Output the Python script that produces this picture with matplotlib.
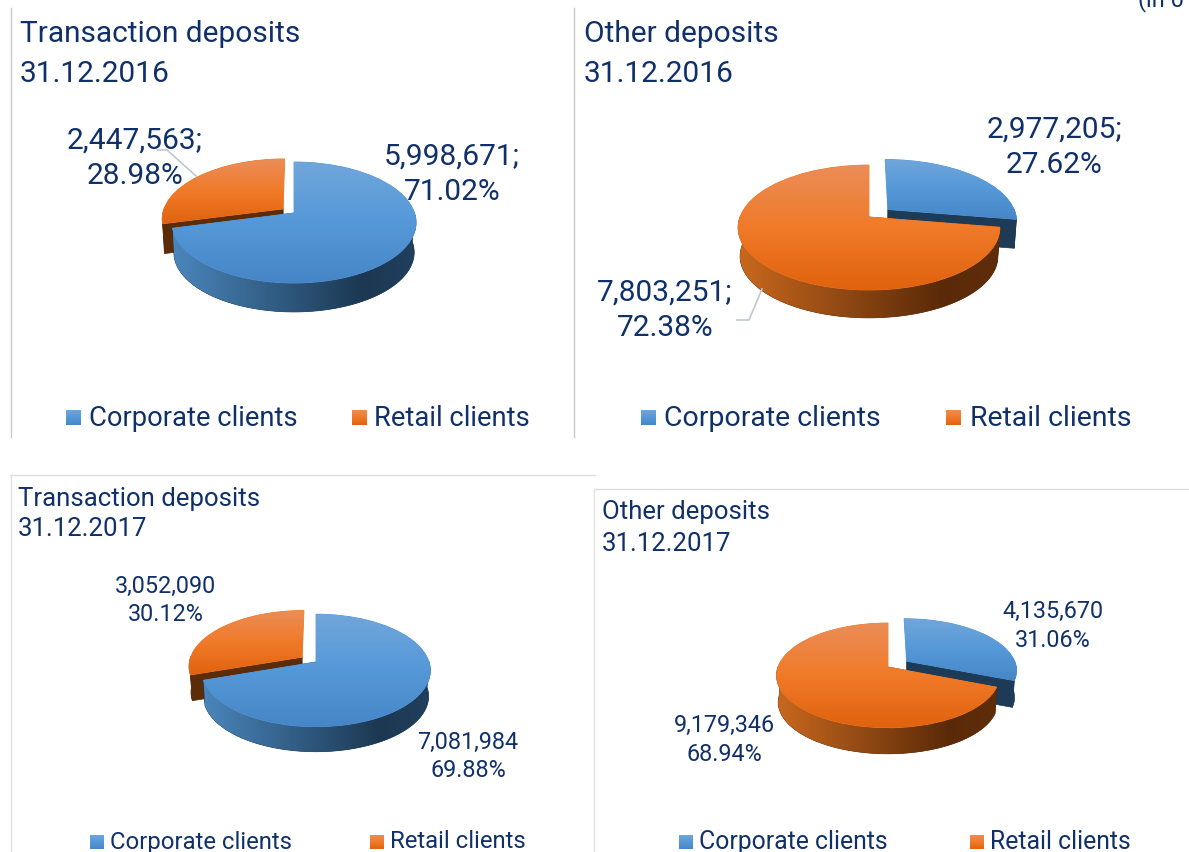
import numpy as np
import matplotlib
matplotlib.use("Agg")
import matplotlib.pyplot as plt
from matplotlib.colors import LinearSegmentedColormap
from matplotlib.patches import Polygon
from matplotlib.transforms import Transform

# values in the order corporate, retail
td_2016 = [5998671, 2447563]
od_2016 = [2977205, 7803251]
td_2017 = [7081984, 3052090]
od_2017 = [4135670, 9179346]
legend_names = ["Corporate clients", "Retail clients"]

NAVY = "#10306A"
FontName = "Roboto"
BLUE = ["#70A6DB", "#5598D8", "#4686C6"]
ORANGE = ["#EB8D58", "#F07A28", "#E0620E"]
BLUE_WALL = ["#4A86BC", "#1C3852", "#21405E"]
ORANGE_WALL = ["#C9681E", "#5A2A08", "#602D0A"]
BLUE_CUT = "#1D3A56"
ORANGE_CUT = "#5C2B08"


class Persp(Transform):
    # the pie's unit circle seen from above, far side squeezed
    input_dims = 2
    output_dims = 2
    is_separable = False
    has_inverse = False

    def __init__(self, cx, cy, rx, ry, k):
        Transform.__init__(self)
        self.cx, self.cy, self.rx, self.ry, self.k = cx, cy, rx, ry, k

    def transform_non_affine(self, values):
        v = np.asarray(values, dtype=float)
        w = 1 + self.k * v[:, 1]
        return np.column_stack([self.cx + self.rx * v[:, 0] / w, self.cy - self.ry * v[:, 1] / w])


fig = plt.figure(figsize=(11.89, 8.52), dpi=100)
ax = fig.add_axes([0, 0, 1, 1])
zcount = [2]


def next_z():
    zcount[0] += 1
    return zcount[0]


def grad_image(stops, extent, vertical, stop_pos=(0, 0.5, 1)):
    cmap = LinearSegmentedColormap.from_list("g", list(zip(stop_pos, stops)))
    g = np.linspace(0, 1, 256)
    g = g.reshape(-1, 1) if vertical else g.reshape(1, -1)
    return ax.imshow(g, cmap=cmap, extent=extent, origin="upper", aspect="auto", vmin=0, vmax=1,
                     interpolation="bilinear", zorder=next_z())


def draw_pie(values, cx, cy, rx, ry, k, depth, explode):
    wedges, _ = ax.pie(values, startangle=90, counterclock=False, explode=explode, radius=1)
    top = Persp(cx, cy, rx, ry, k)
    low = Persp(cx, cy + depth, rx * 0.985, ry * 0.985, k)
    order = np.argsort(explode)[::-1]
    for i in order:
        w = wedges[i]
        tops = [BLUE, ORANGE][i]
        walls = [BLUE_WALL, ORANGE_WALL][i]
        cut = [BLUE_CUT, ORANGE_CUT][i]
        th = np.radians(np.linspace(w.theta1, w.theta2, 300))
        px = w.center[0] + np.cos(th)
        py = w.center[1] + np.sin(th)
        rim = np.column_stack([px, py])
        apex = np.array([w.center])
        # flat cut faces, the one at 12 o'clock is edge on
        for end, ang in [(rim[:1], th[0]), (rim[-1:], th[-1])]:
            if np.sin(ang) > 0.9:
                continue
            quad = np.vstack([top.transform(apex), top.transform(end), low.transform(end), low.transform(apex)])
            ax.add_patch(Polygon(quad, closed=True, fc=cut, ec=cut, lw=0.5, zorder=next_z()))
        # outer wall, only the part that faces the viewer
        front = np.sin(th) < 0.02
        if front.sum() > 2:
            a = top.transform(rim[front])
            b = low.transform(rim[front])
            pts = np.vstack([a, b])
            span = pts[:, 0].max() - pts[:, 0].min()
            flat = span < 60
            fc = cut if flat else walls[1]
            poly = Polygon(np.vstack([a, b[::-1]]), closed=True, fc=fc, ec=fc, lw=0.5, zorder=next_z())
            ax.add_patch(poly)
            if not flat:
                im = grad_image(walls, (pts[:, 0].min(), pts[:, 0].max(), pts[:, 1].max(), pts[:, 1].min()),
                                False, (0, 0.78, 1))
                im.set_clip_path(poly)
        # top face is the wedge from ax.pie itself
        w.set_transform(top + ax.transData)
        w.set_facecolor(tops[1])
        w.set_edgecolor(tops[1])
        w.set_linewidth(0.6)
        w.set_zorder(next_z())
        pts = top.transform(np.vstack([rim, apex]))
        im = grad_image(tops, (pts[:, 0].min(), pts[:, 0].max(), pts[:, 1].max(), pts[:, 1].min()), True)
        im.set_clip_path(w)


def pie_labels(values, spots, size, sep, spacing):
    total = sum(values)
    for v, (x, y) in zip(values, spots):
        ax.text(x, y, f"{v:,}{sep}\n{100 * v / total:.2f}%", color=NAVY, fontsize=size, ha="center",
                va="center", linespacing=spacing, family=FontName, zorder=500)


def legend_row(xs, y, box, size):
    for i, (bx, tx) in enumerate(xs):
        stops = [BLUE, ORANGE][i]
        grad_image(stops, (bx, bx + box, y + box / 2, y - box / 2), True)
        ax.text(tx, y, legend_names[i], color=NAVY, fontsize=size, va="center", ha="left",
                family=FontName, zorder=500)


def title(x, y, txt, size, spacing):
    ax.text(x, y, txt, color=NAVY, fontsize=size, va="center", ha="left", linespacing=spacing,
            family=FontName, zorder=500)


draw_pie(td_2016, 294, 213, 120.5, 59, 0.157, 30, [0, 0.115])
draw_pie(od_2016, 869, 217, 129, 60.7, 0.168, 29, [0.195, 0])
draw_pie(td_2017, 316, 662, 113, 55, 0.15, 26, [0, 0.153])
draw_pie(od_2017, 888, 667, 110, 51, 0.16, 27, [0.208, 0])

ax.set_aspect("auto")
ax.set_xlim(0, 1189)
ax.set_ylim(852, 0)
ax.axis("off")

title(20, 54, "Transaction deposits\n31.12.2016", 21.5, 1.5)
title(584, 54, "Other deposits\n31.12.2016", 21.5, 1.5)
title(18, 514, "Transaction deposits\n31.12.2017", 18.5, 1.35)
title(602, 528, "Other deposits\n31.12.2017", 18.5, 1.38)

pie_labels(td_2016, [(452, 174), (135, 158)], 21.5, ";", 1.32)
pie_labels(od_2016, [(1054, 147), (665, 310)], 21.5, ";", 1.32)
pie_labels(td_2017, [(468, 756), (166, 600)], 16.8, "", 1.28)
pie_labels(od_2017, [(1053, 626), (724, 740)], 16.8, "", 1.33)

legend_row([(66, 89), (352, 374)], 418, 15, 19.7)
legend_row([(641, 664), (946, 970)], 418, 15, 20.5)
legend_row([(90, 110), (370, 390)], 842, 14, 17.2)
legend_row([(679, 699), (970, 990)], 842, 14, 17.8)

# leader lines
ax.plot([158, 167, 196], [150, 150, 176], color="#BFC8D2", lw=1.2, zorder=400)
ax.plot([737, 749, 762], [320, 320, 289], color="#BFC8D2", lw=1.2, zorder=400)

# panel borders
ax.plot([11, 11], [8, 437], color="#C8C8C8", lw=1)
ax.plot([574, 574], [8, 437], color="#C8C8C8", lw=1)
ax.plot([10, 595], [475, 475], color="#DCDCDC", lw=1)
ax.plot([11, 11], [475, 852], color="#E2E2E2", lw=1)
ax.plot([594, 1189], [489, 489], color="#DCDCDC", lw=1)
ax.plot([594, 594], [489, 852], color="#E2E2E2", lw=1)

# clipped unit note at the very top of the page
ax.text(1138, 0, "(in 0", color=NAVY, fontsize=17, ha="left", va="center", family=FontName, zorder=500)

fig.savefig("out.png", dpi=100)
